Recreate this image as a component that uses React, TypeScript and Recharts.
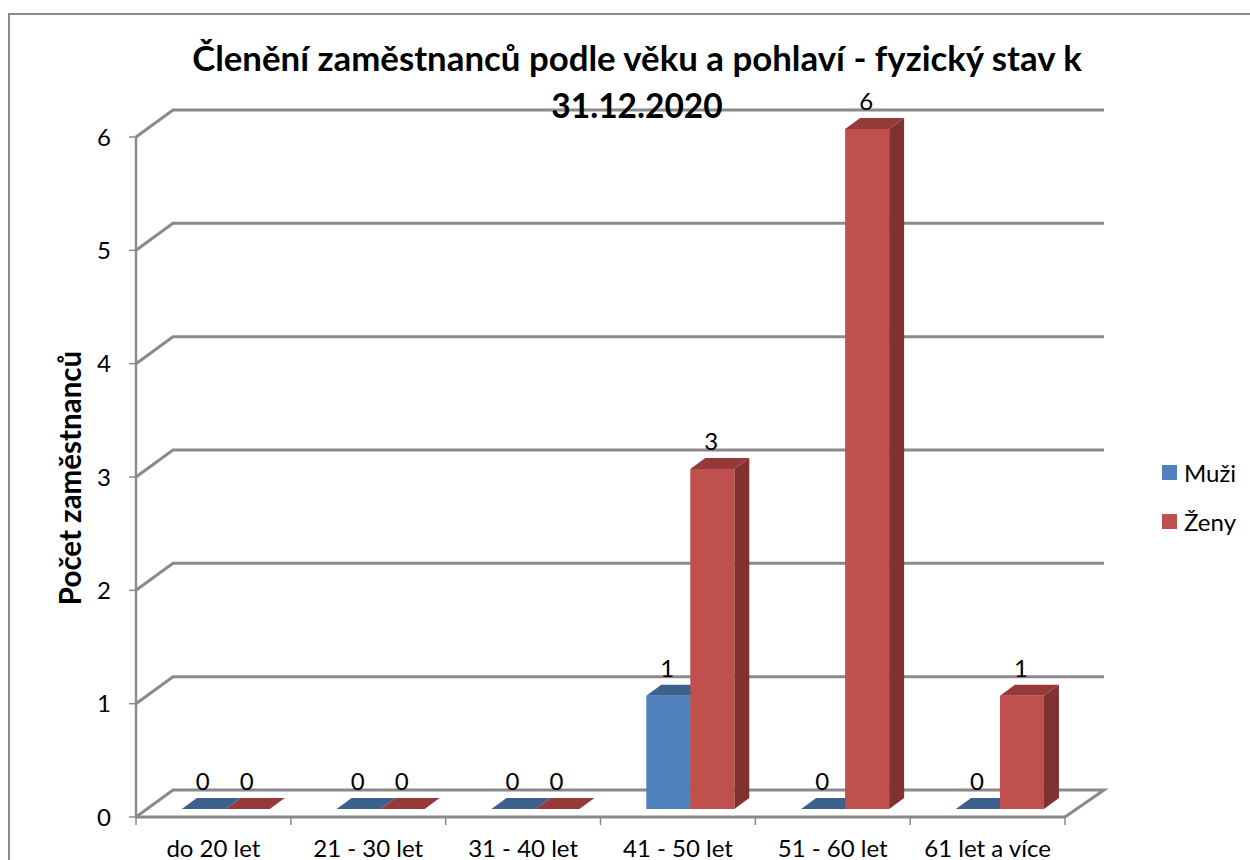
import React from "react";
import { BarChart, Bar, XAxis, YAxis, CartesianGrid, Legend, LabelList } from "recharts";

const categories = ["do 20 let", "21 - 30 let", "31 - 40 let", "41 - 50 let", "51 - 60 let", "61 let a více"];
const muzi = [0, 0, 0, 1, 0, 0];
const zeny = [0, 0, 0, 3, 6, 1];
const yTicks = [0, 1, 2, 3, 4, 5, 6];
const titleLines = ["Členění zaměstnanců podle věku a pohlaví - fyzický stav k", "31.12.2020"];

const data = categories.map((name, i) => ({ name, muzi: muzi[i], zeny: zeny[i] }));

const FONT = "Lato, Carlito, sans-serif";
const GREY = "#8a8a8a";
const BAND = 154.8;
// offset of the bars from the front of the floor, and depth of the fake 3D
const SHIFT_X = 12.5;
const SHIFT_Y = -8;
const DEPTH_X = 15;
const DEPTH_Y = 11;
const WALL_X = 37;
const WALL_Y = 27;

const makeBar = (front: string, top: string, side: string) => (props: any) => {
  const { x, y, width, height } = props;
  const l = x + SHIFT_X;
  const r = l + width;
  const t = y + SHIFT_Y;
  const b = t + height;
  return (
    <g>
      <path d={`M${r},${t} L${r + DEPTH_X},${t - DEPTH_Y} L${r + DEPTH_X},${b - DEPTH_Y} L${r},${b} Z`} fill={side} />
      <path d={`M${l},${t} L${l + DEPTH_X},${t - DEPTH_Y} L${r + DEPTH_X},${t - DEPTH_Y} L${r},${t} Z`} fill={top} />
      {height > 0 && <rect x={l} y={t} width={width} height={height} fill={front} />}
    </g>
  );
};

const BarLabel = (props: any) => {
  const { x, y, width, value } = props;
  return (
    <text x={x + width / 2 + SHIFT_X - 1} y={y - 27} textAnchor="middle" fontSize={24} fontFamily={FONT} fill="#000">
      {value}
    </text>
  );
};

const WallLine = (props: any) => {
  const { x1, x2, y1 } = props;
  const isFloor = y1 > 800;
  const back = y1 - WALL_Y;
  const d = isFloor
    ? `M${x1},${y1} L${x1 + WALL_X},${back} L${x2 + WALL_X + 2},${back} L${x2},${y1}`
    : `M${x1},${y1} L${x1 + WALL_X},${back} L${x2 + WALL_X + 2},${back}`;
  return <path d={d} fill="none" stroke={GREY} strokeWidth={3} />;
};

const CategoryTick = (props: any) => {
  const { x, index, payload } = props;
  return (
    <g>
      <line x1={x - BAND / 2} x2={x - BAND / 2} y1={817} y2={825} stroke={GREY} strokeWidth={1.5} />
      {index === categories.length - 1 && (
        <line x1={x + BAND / 2} x2={x + BAND / 2} y1={817} y2={825} stroke={GREY} strokeWidth={1.5} />
      )}
      <text x={x} y={857} textAnchor="middle" fontSize={24} fontFamily={FONT} fill="#000">
        {payload.value}
      </text>
    </g>
  );
};

const legendItems = [
  { label: "Muži", color: "#4F81BD" },
  { label: "Ženy", color: "#C0504D" },
];

const LegendBox = () => (
  <div style={{ fontFamily: FONT, fontSize: 24, lineHeight: "29px", color: "#000" }}>
    {legendItems.map((item) => (
      <div key={item.label} style={{ display: "flex", alignItems: "center", height: 29, marginBottom: 20 }}>
        <span style={{ width: 15, height: 15, background: item.color, marginRight: 7 }} />
        <span>{item.label}</span>
      </div>
    ))}
  </div>
);

export default function App() {
  return (
    <div style={{ position: "absolute", left: 0, top: 0, width: 1250, height: 860, overflow: "hidden", background: "#fff" }}>
      <BarChart
        width={1250}
        height={860}
        data={data}
        margin={{ top: 137, right: 97, bottom: 0, left: 0 }}
        barCategoryGap="21.5%"
        barGap={0}
      >
        <rect x={9} y={14} width={1300} height={900} fill="none" stroke={GREY} strokeWidth={2} />
        <CartesianGrid vertical={false} horizontal={(p: any) => <WallLine {...p} />} />
        <XAxis
          dataKey="name"
          interval={0}
          height={43}
          axisLine={{ stroke: GREY, strokeWidth: 3 }}
          tickLine={false}
          tick={(p: any) => <CategoryTick {...p} />}
        />
        <YAxis
          width={136}
          domain={[0, 6]}
          ticks={yTicks}
          interval={0}
          axisLine={{ stroke: GREY, strokeWidth: 2.4 }}
          tickLine={{ stroke: GREY, strokeWidth: 1.5 }}
          tickSize={7}
          tickMargin={18}
          tick={{ fontSize: 24, fontFamily: FONT, fill: "#000" }}
          label={{
            value: "Počet zaměstnanců",
            content: () => (
              <text
                transform="translate(81,478) rotate(-90)"
                textAnchor="middle"
                fontSize={29.5}
                fontWeight={700}
                fontFamily={FONT}
                fill="#000"
              >
                Počet zaměstnanců
              </text>
            ),
          }}
        />
        <Legend
          layout="vertical"
          align="right"
          verticalAlign="top"
          wrapperStyle={{ left: 1162, top: 458, width: 88 }}
          content={() => <LegendBox />}
        />
        <Bar
          dataKey="muzi"
          name="Muži"
          isAnimationActive={false}
          shape={makeBar("#4F81BD", "#3C618F", "#3C618F")}
        >
          <LabelList dataKey="muzi" content={(p: any) => <BarLabel {...p} />} />
        </Bar>
        <Bar
          dataKey="zeny"
          name="Ženy"
          isAnimationActive={false}
          shape={makeBar("#C0504D", "#953A38", "#7F3230")}
        >
          <LabelList dataKey="zeny" content={(p: any) => <BarLabel {...p} />} />
        </Bar>
        <text x={637} y={71} textAnchor="middle" fontSize={34.8} fontWeight={700} fontFamily={FONT} fill="#000">
          {titleLines[0]}
        </text>
        <text x={637} y={118} textAnchor="middle" fontSize={33.5} fontWeight={700} fontFamily={FONT} fill="#000">
          {titleLines[1]}
        </text>
      </BarChart>
    </div>
  );
}
